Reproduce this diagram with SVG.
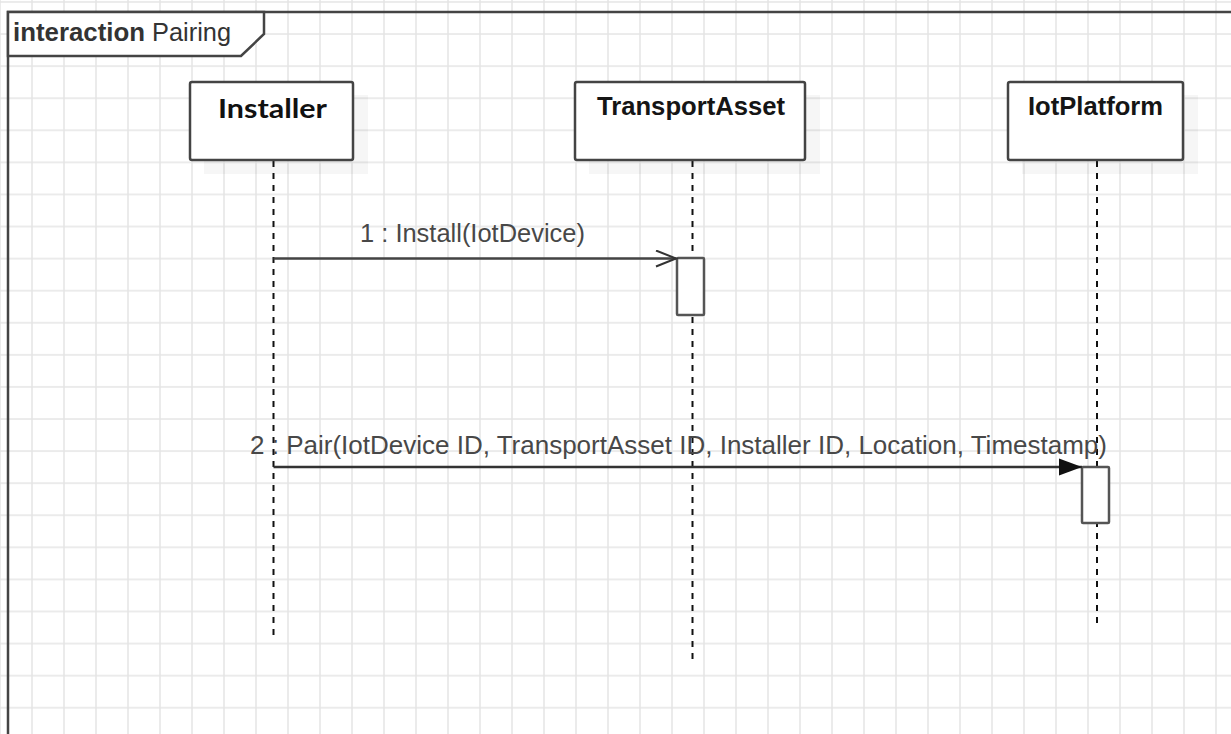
<svg xmlns="http://www.w3.org/2000/svg" width="1231" height="734" viewBox="0 0 1231 734">
<defs>
<pattern id="grid" patternUnits="userSpaceOnUse" x="-1" y="1" width="32" height="32.08">
<path d="M1 0 V32.08 M0 1 H32" stroke="#e5e5e5" stroke-width="1.5" fill="none"/>
</pattern>
<marker id="open" markerUnits="userSpaceOnUse" markerWidth="24" markerHeight="20" refX="21" refY="9" orient="auto">
<path d="M1 1 L21 9 L1 17" fill="none" stroke="#333" stroke-width="2"/>
</marker>
<marker id="filled" markerUnits="userSpaceOnUse" markerWidth="26" markerHeight="20" refX="23" refY="9" orient="auto">
<path d="M0 0.5 L23 9 L0 17.5 Z" fill="#111"/>
</marker>
</defs>
<style>
.head{fill:#fff;stroke:#444;stroke-width:2.5}
.shadow{fill:#000;fill-opacity:0.035}
.htext{font-family:"Liberation Sans",Arial,sans-serif;font-weight:bold;fill:#151515;text-anchor:start}
.life{stroke:#111;stroke-width:2;stroke-dasharray:6 6;fill:none}
.act{fill:#fff;stroke:#555;stroke-width:2.5}
.msg{font-family:"Liberation Sans",Arial,sans-serif;font-size:25.5px;fill:#484848}
.line{stroke:#444;stroke-width:2.5;fill:none}
.ftext{font-family:"Liberation Sans",Arial,sans-serif;font-size:25px;fill:#333}
</style>
<rect x="0" y="0" width="1231" height="734" fill="#fff"/>
<rect x="0" y="0" width="1231" height="734" fill="url(#grid)"/>

<g id="frame">
<path d="M8 734 V12 H1231" fill="none" stroke="#444" stroke-width="2.5"/>
<path d="M8 12 H264 V34 L241 56 H8 Z" fill="#fff" stroke="#444" stroke-width="2.5"/>
<text class="ftext" x="13" y="41" font-weight="bold" textLength="132" lengthAdjust="spacingAndGlyphs">interaction</text>
<text class="ftext" x="152" y="41" fill="#444" textLength="79" lengthAdjust="spacingAndGlyphs">Pairing</text>
</g>

<g id="installer">
<rect class="shadow" x="204" y="95" width="164" height="79"/>
<line class="life" x1="273.5" y1="161" x2="273.5" y2="637"/>
<rect class="head" x="190" y="82" width="163" height="78" rx="2"/>
<text x="218" y="118" font-family="Lato,'Open Sans',sans-serif" font-weight="bold" font-size="26" fill="#111" textLength="109" lengthAdjust="spacingAndGlyphs">Installer</text>
</g>

<g id="transportasset">
<rect class="shadow" x="589" y="95" width="231" height="79"/>
<line class="life" x1="692.5" y1="161" x2="692.5" y2="660"/>
<rect class="head" x="575" y="82" width="230" height="78" rx="2"/>
<text class="htext" x="597" y="115" font-size="25" textLength="188" lengthAdjust="spacingAndGlyphs">TransportAsset</text>
<rect class="act" x="677" y="258" width="27" height="57" rx="1"/>
</g>

<g id="iotplatform">
<rect class="shadow" x="1022" y="95" width="176" height="79"/>
<line class="life" x1="1097" y1="161" x2="1097" y2="625"/>
<rect class="head" x="1008" y="82" width="175" height="78" rx="2"/>
<text class="htext" x="1028" y="115" font-size="25.5" textLength="135" lengthAdjust="spacingAndGlyphs">IotPlatform</text>
<rect class="act" x="1082" y="467" width="27" height="56" rx="1"/>
</g>

<g id="connectors">
<line class="line" x1="273.5" y1="258.5" x2="676" y2="258.5" marker-end="url(#open)"/>
<text class="msg" x="360" y="242" textLength="225" lengthAdjust="spacingAndGlyphs">1 : Install(IotDevice)</text>
<line x1="273.5" y1="467" x2="1082" y2="467" stroke="#333" stroke-width="2.5" marker-end="url(#filled)"/>
<text class="msg" x="250" y="454" textLength="857" lengthAdjust="spacingAndGlyphs">2 : Pair(IotDevice ID, TransportAsset ID, Installer ID, Location, Timestamp)</text>
</g>
</svg>
